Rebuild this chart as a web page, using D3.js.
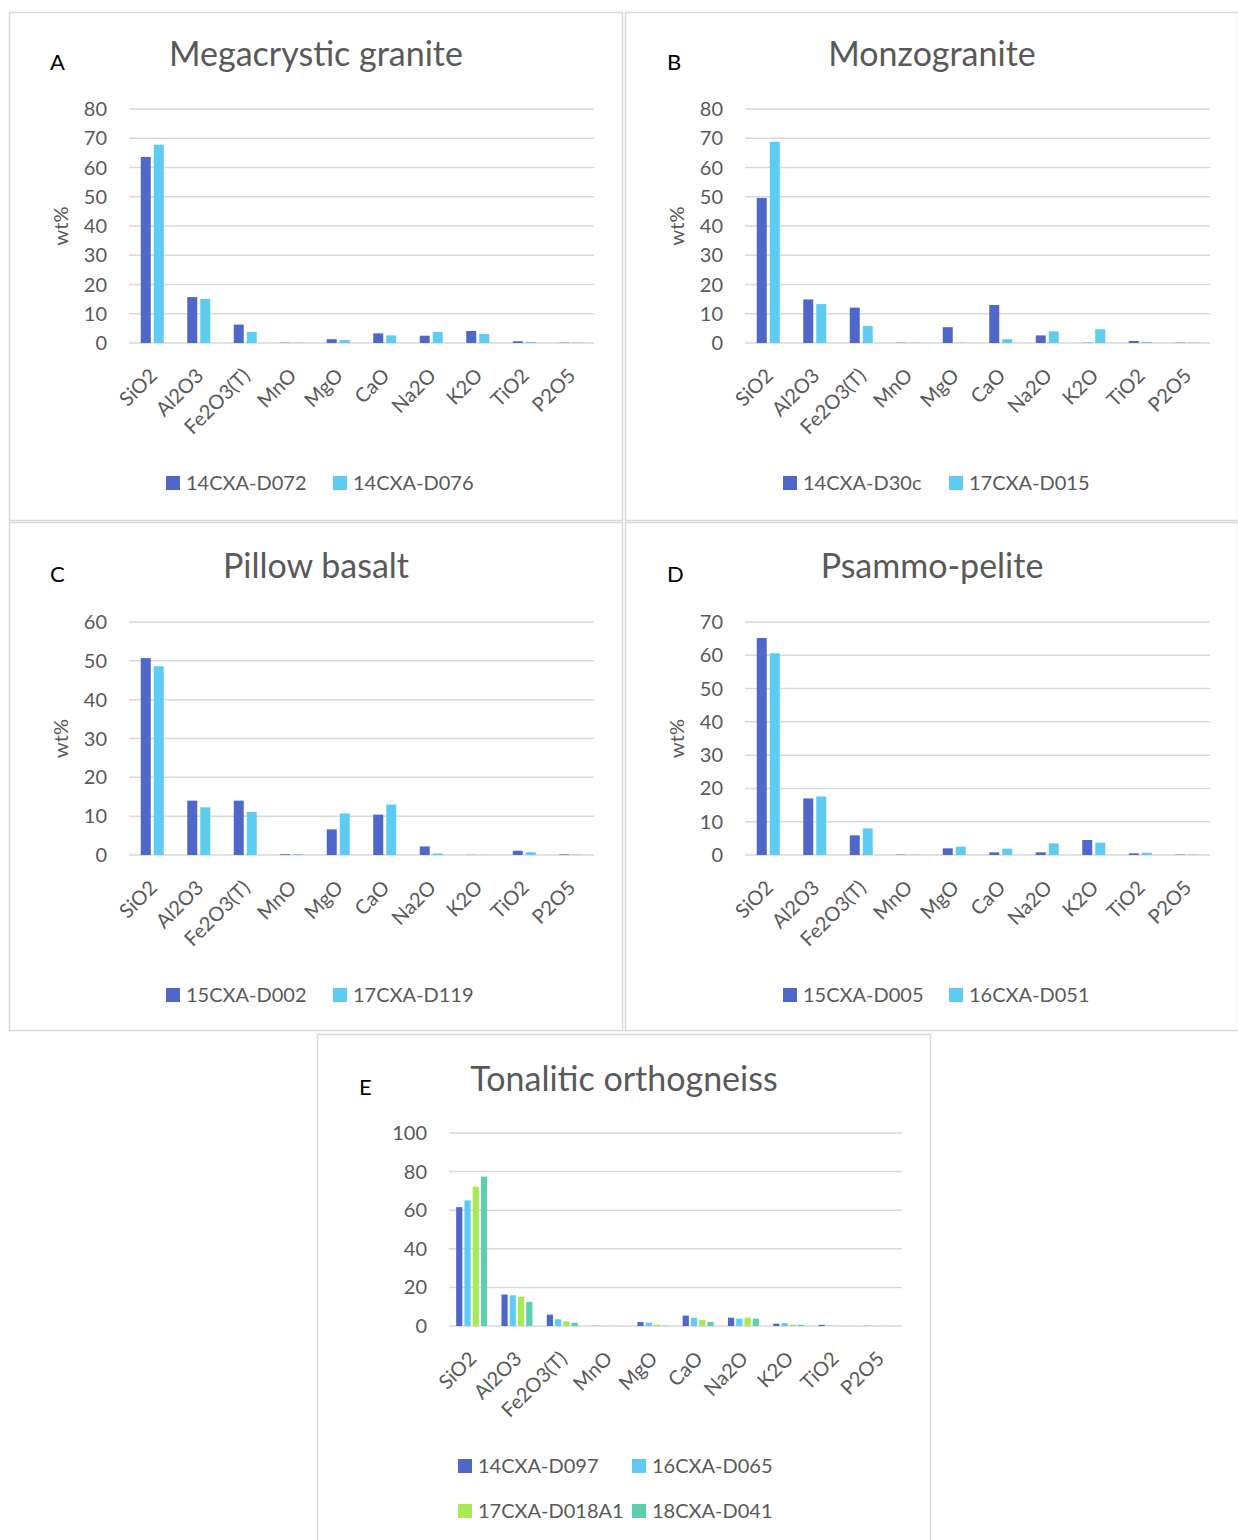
<!DOCTYPE html>
<html>
<head>
<meta charset="utf-8">
<script src="https://cdn.jsdelivr.net/npm/d3@7"></script>
<style>
  body { margin: 0; background: #fff; }
  svg { display: block; font-family: Lato, "Open Sans", sans-serif; }
</style>
</head>
<body>
<svg id="chart" width="1238" height="1540"></svg>
<script>
// oxide categories, same for all panels
const oxides = ["SiO2", "Al2O3", "Fe2O3(T)", "MnO", "MgO", "CaO", "Na2O", "K2O", "TiO2", "P2O5"];

// A - Megacrystic granite
const d072 = [63.6, 15.7, 6.3, 0.1, 1.3, 3.3, 2.5, 4.1, 0.6, 0.1];
const d076 = [67.8, 15.1, 3.8, 0.1, 1.0, 2.6, 3.8, 3.1, 0.35, 0.1];

// B - Monzogranite
const d30c = [49.6, 14.9, 12.1, 0.1, 5.4, 13.0, 2.6, 0.1, 0.7, 0.1];
const d015 = [68.8, 13.3, 5.8, 0.1, 0.1, 1.3, 4.0, 4.7, 0.35, 0.1];

// C - Pillow basalt
const d002 = [50.7, 14.0, 14.0, 0.2, 6.6, 10.4, 2.2, 0.05, 1.1, 0.15];
const d119 = [48.6, 12.3, 11.1, 0.2, 10.7, 13.0, 0.4, 0.05, 0.7, 0.1];

// D - Psammo-pelite
const d005 = [65.2, 17.0, 5.9, 0.1, 2.0, 0.8, 0.8, 4.5, 0.5, 0.1];
const d051 = [60.6, 17.6, 8.0, 0.1, 2.5, 1.9, 3.5, 3.7, 0.7, 0.1];

// E - Tonalitic orthogneiss
const d097 = [61.6, 16.3, 5.9, 0.1, 2.1, 5.4, 4.3, 1.2, 0.6, 0.1];
const d065 = [65.1, 15.9, 3.5, 0.1, 1.7, 4.3, 3.8, 1.5, 0.1, 0.1];
const d018 = [72.2, 15.1, 2.4, 0.1, 0.7, 3.1, 4.3, 0.7, 0.1, 0.1];
const d041 = [77.4, 12.5, 1.7, 0.1, 0.2, 2.1, 3.8, 0.6, 0.1, 0.1];

const yTicksA = [0, 10, 20, 30, 40, 50, 60, 70, 80];
const yTicksC = [0, 10, 20, 30, 40, 50, 60];
const yTicksD = [0, 10, 20, 30, 40, 50, 60, 70];
const yTicksE = [0, 20, 40, 60, 80, 100];

const colors = ["#4e67c8", "#5ecbf3", "#a7ea52", "#5dceaf"];

const svg = d3.select("#chart");

// panel frames
const frames = [[9, 12], [625, 12], [9, 522], [625, 522], [317, 1034]];
frames.forEach(f => {
  svg.append("rect")
    .attr("x", f[0] + 0.5).attr("y", f[1] + 0.5)
    .attr("width", 613).attr("height", 508)
    .attr("fill", "none").attr("stroke", "#d9d9d9").attr("stroke-width", 1.5);
});

function panel(cfg) {
  const g = svg.append("g");

  let x = d3.scaleBand()
    .domain(oxides)
    .range([cfg.left, cfg.right])
    .padding(0);

  let y = d3.scaleLinear()
    .domain([0, cfg.ticks[cfg.ticks.length - 1]])
    .range([cfg.bottom, cfg.top]);

  // gridlines
  g.selectAll(".grid").data(cfg.ticks).enter().append("line")
    .attr("x1", cfg.left).attr("x2", cfg.right)
    .attr("y1", d => y(d)).attr("y2", d => y(d))
    .attr("stroke", "#d9d9d9").attr("stroke-width", 1.5);

  // y tick labels
  g.selectAll(".tick").data(cfg.ticks).enter().append("text")
    .attr("x", cfg.left - 22).attr("y", d => y(d) + 7)
    .attr("text-anchor", "end")
    .attr("font-size", 20).attr("fill", "#595959")
    .text(d => d);

  // series within each category
  let inner = d3.scaleBand()
    .domain(d3.range(cfg.series.length))
    .range([0, cfg.groupW])
    .paddingInner(cfg.innerPad);

  let off = (x.bandwidth() - cfg.groupW) / 2;

  cfg.series.forEach((vals, si) => {
    g.append("g")
      .attr("fill", colors[si])
      .selectAll("rect")
      .data(vals)
      .enter().append("rect")
        .attr("x", (d, i) => x(oxides[i]) + off + inner(si))
        .attr("y", d => y(d))
        .attr("width", inner.bandwidth())
        .attr("height", d => y(0) - y(d));
  });

  // category labels, rotated
  g.selectAll(".cat").data(oxides).enter().append("text")
    .attr("transform", d => "translate(" + (x(d) + x.bandwidth() / 2 + 6) + "," + (cfg.bottom + 34) + ") rotate(-45)")
    .attr("text-anchor", "end")
    .attr("font-size", 20).attr("fill", "#595959")
    .text(d => d);

  // title + panel letter
  g.append("text")
    .attr("x", cfg.titleX).attr("y", cfg.titleY)
    .attr("text-anchor", "middle")
    .attr("font-size", 34).attr("fill", "#595959")
    .text(cfg.title);
  g.append("text")
    .attr("x", cfg.letterX).attr("y", cfg.titleY + 4)
    .attr("font-size", 22).attr("fill", "#000")
    .text(cfg.letter);

  // axis title
  if (cfg.wt) {
    g.append("text")
      .attr("transform", "translate(" + cfg.wt + "," + ((cfg.top + cfg.bottom) / 2) + ") rotate(-90)")
      .attr("text-anchor", "middle")
      .attr("font-size", 20).attr("fill", "#595959")
      .text("wt%");
  }

  // legend
  cfg.names.forEach((n, i) => {
    let lx = cfg.legend[i][0], ly = cfg.legend[i][1];
    g.append("rect")
      .attr("x", lx).attr("y", ly - 7)
      .attr("width", 14).attr("height", 14)
      .attr("fill", colors[i]);
    g.append("text")
      .attr("x", lx + 20).attr("y", ly + 7)
      .attr("font-size", 20).attr("fill", "#595959")
      .text(n);
  });
}

panel({ letter: "A", title: "Megacrystic granite", letterX: 50, titleX: 316, titleY: 66,
  left: 129, right: 594, top: 109, bottom: 343, ticks: yTicksA, wt: 68,
  series: [d072, d076], names: ["14CXA-D072", "14CXA-D076"], groupW: 23, innerPad: 0.23,
  legend: [[166, 483], [333, 483]] });

panel({ letter: "B", title: "Monzogranite", letterX: 667, titleX: 932, titleY: 66,
  left: 745, right: 1210, top: 109, bottom: 343, ticks: yTicksA, wt: 684,
  series: [d30c, d015], names: ["14CXA-D30c", "17CXA-D015"], groupW: 23, innerPad: 0.23,
  legend: [[783, 483], [949, 483]] });

panel({ letter: "C", title: "Pillow basalt", letterX: 50, titleX: 316, titleY: 578,
  left: 129, right: 594, top: 622, bottom: 855, ticks: yTicksC, wt: 68,
  series: [d002, d119], names: ["15CXA-D002", "17CXA-D119"], groupW: 23, innerPad: 0.23,
  legend: [[166, 995], [333, 995]] });

panel({ letter: "D", title: "Psammo-pelite", letterX: 667, titleX: 932, titleY: 578,
  left: 745, right: 1210, top: 622, bottom: 855, ticks: yTicksD, wt: 684,
  series: [d005, d051], names: ["15CXA-D005", "16CXA-D051"], groupW: 23, innerPad: 0.23,
  legend: [[783, 995], [949, 995]] });

panel({ letter: "E", title: "Tonalitic orthogneiss", letterX: 359, titleX: 624, titleY: 1091,
  left: 449, right: 902, top: 1133, bottom: 1326, ticks: yTicksE, wt: null,
  series: [d097, d065, d018, d041], names: ["14CXA-D097", "16CXA-D065", "17CXA-D018A1", "18CXA-D041"],
  groupW: 31, innerPad: 0.25,
  legend: [[458, 1466], [632, 1466], [458, 1511], [632, 1511]] });
</script>
</body>
</html>
